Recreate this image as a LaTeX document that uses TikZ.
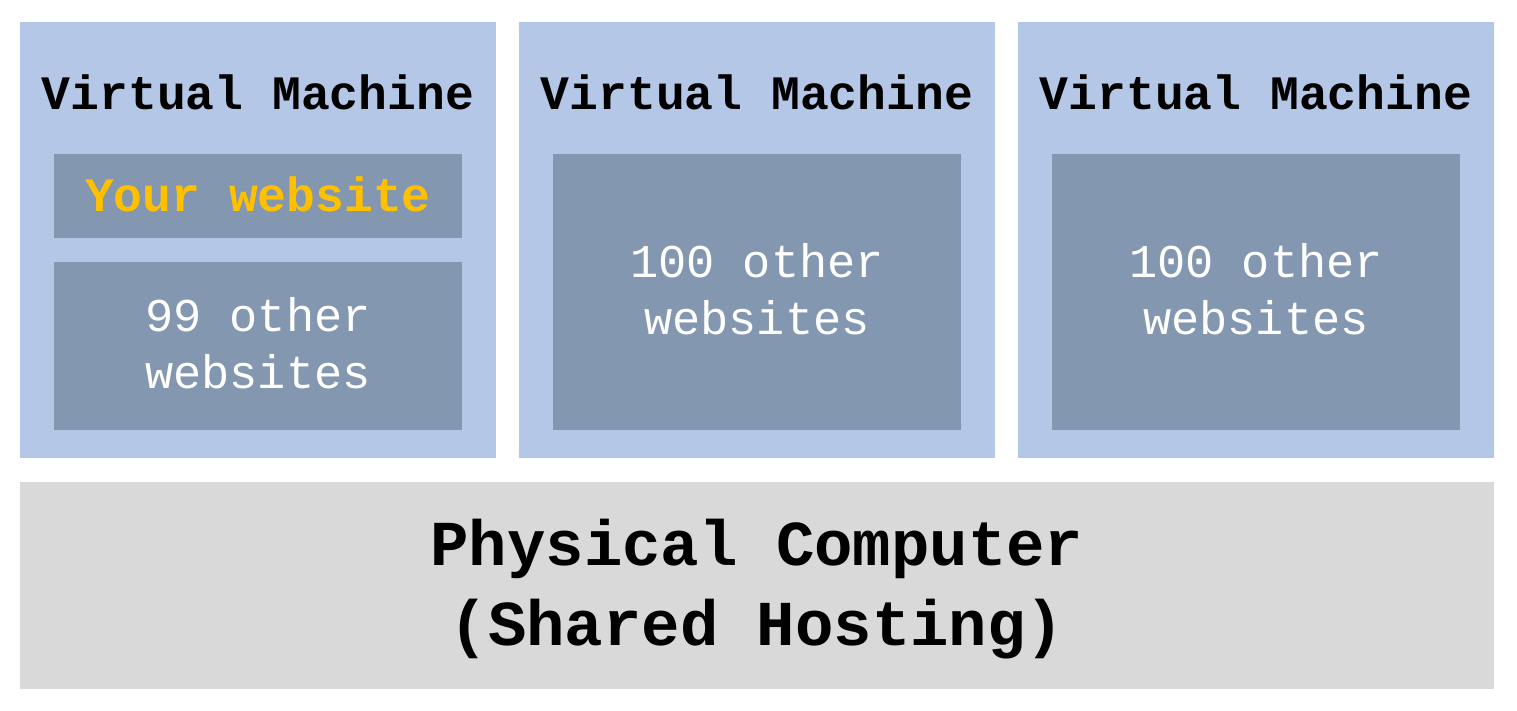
\documentclass[tikz,border=0pt]{standalone}
\usepackage{fontspec}
\setmonofont{Liberation Mono}
\definecolor{vmblue}{HTML}{B4C7E7}
\definecolor{siteblue}{HTML}{8497B0}
\definecolor{hostgray}{HTML}{D9D9D9}
\definecolor{youryellow}{HTML}{FFC000}
\begin{document}
\begin{tikzpicture}[x=1pt,y=-1pt,
  vmbox/.style={fill=vmblue, draw=none},
  sitebox/.style={fill=siteblue, draw=none},
  hostbox/.style={fill=hostgray, draw=none},
  vmtitle/.style={font=\ttfamily\bfseries\fontsize{48}{56}\selectfont, text=black, inner sep=0pt},
  yourtext/.style={font=\ttfamily\bfseries\fontsize{48}{56}\selectfont, text=youryellow, inner sep=0pt},
  othertext/.style={font=\ttfamily\fontsize{47}{57}\selectfont, text=white, align=center, inner sep=0pt},
  hosttext/.style={font=\ttfamily\bfseries\fontsize{64}{80}\selectfont, text=black, align=center, inner sep=0pt}
]
\useasboundingbox[fill=white] (0,0) rectangle (1517,710);
% virtual machines
\fill[vmbox] (20,22) rectangle (496,458);
\fill[vmbox] (519,22) rectangle (995,458);
\fill[vmbox] (1018,22) rectangle (1494,458);
% inner boxes
\fill[sitebox] (54,154) rectangle (462,238);
\fill[sitebox] (54,262) rectangle (462,430);
\fill[sitebox] (553,154) rectangle (961,430);
\fill[sitebox] (1052,154) rectangle (1460,430);
% physical
\fill[hostbox] (20,482) rectangle (1494,689);
% texts
\node[vmtitle] (t1) at (258,92) {Virtual Machine};
\node[vmtitle] (t2) at (757,92) {Virtual Machine};
\node[vmtitle] (t3) at (1256,92) {Virtual Machine};
\node[yourtext] (your) at (258,194) {Your website};
\node[othertext] (o1) at (258,343) {99 other\\websites};
\node[othertext] (o2) at (757,289) {100 other\\websites};
\node[othertext] (o3) at (1256,289) {100 other\\websites};
\node[hosttext] (host) at (757,589) {Physical Computer\\(Shared Hosting)};
\end{tikzpicture}
\end{document}
